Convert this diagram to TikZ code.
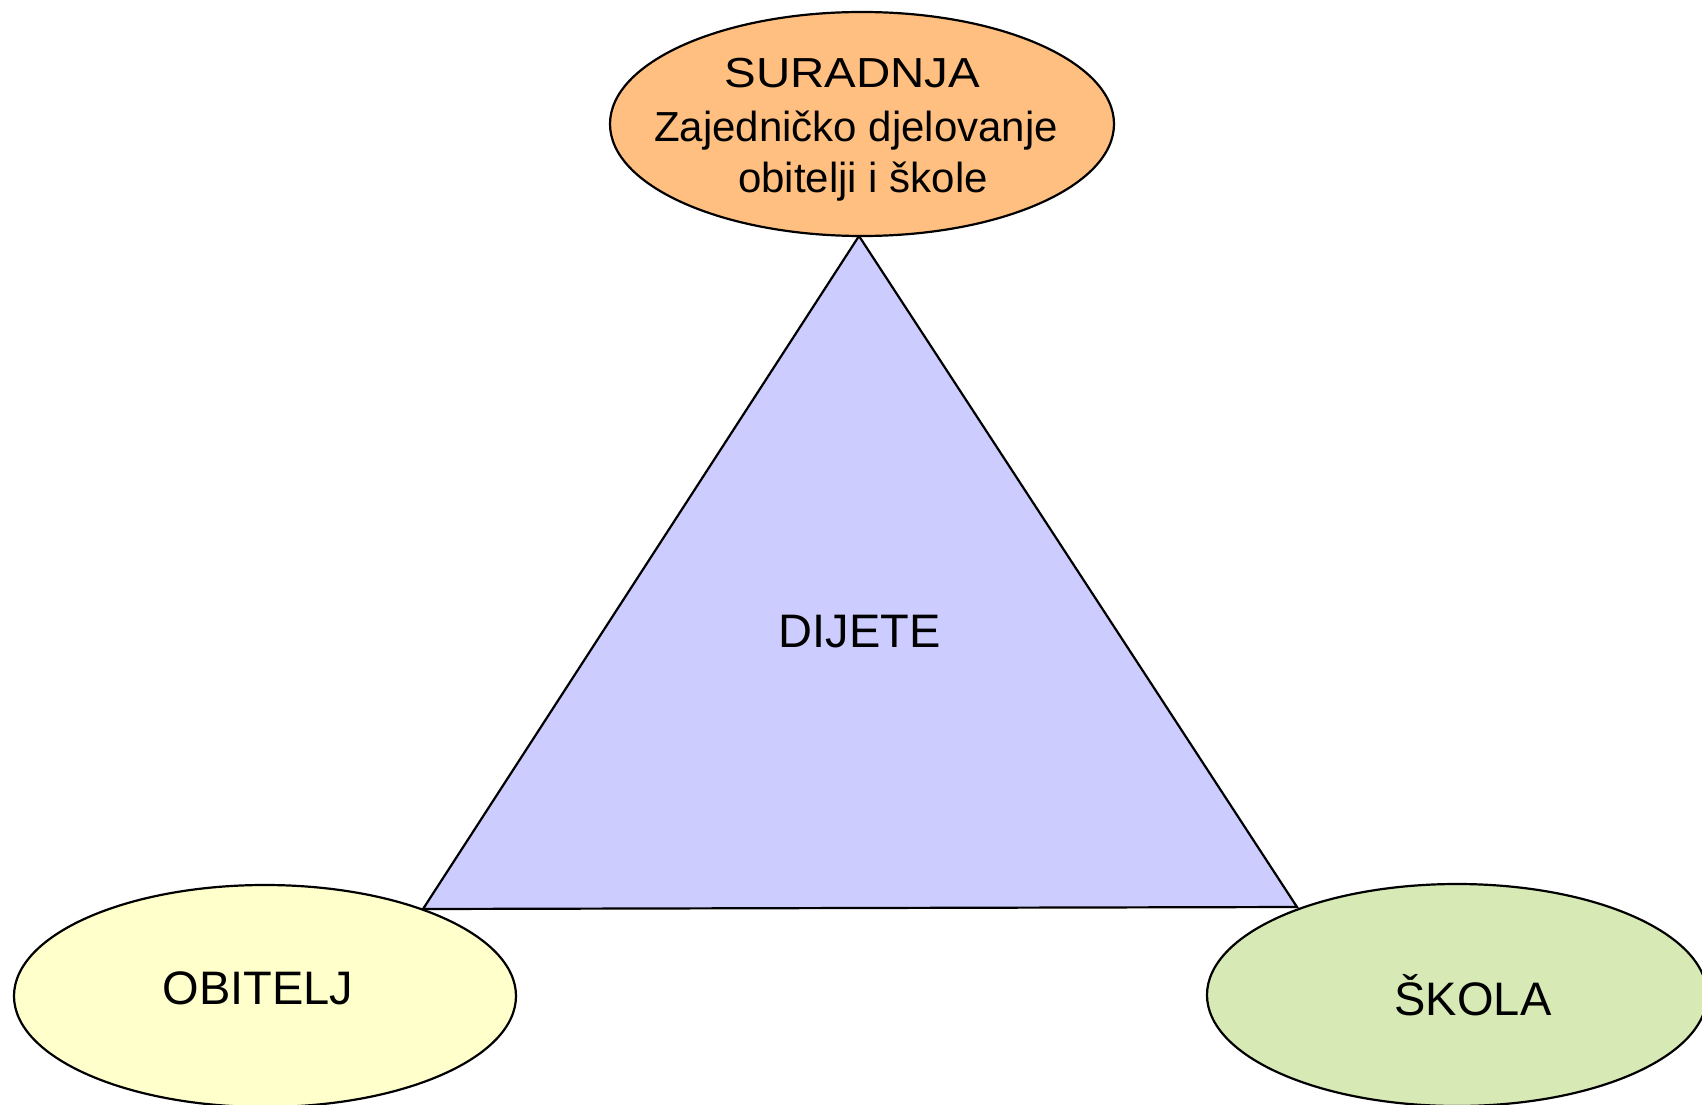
\documentclass[tikz,border=0pt]{standalone}
\usepackage{fontspec}
\setmainfont{Liberation Sans}
\usetikzlibrary{shapes.geometric}
\definecolor{topfill}{HTML}{FFBF80}
\definecolor{trifill}{HTML}{CCCCFF}
\definecolor{leftfill}{HTML}{FFFFCC}
\definecolor{rightfill}{HTML}{D7E9B4}
\tikzset{
  oval/.style={ellipse, draw=black, line width=2.2pt, inner sep=0pt},
  bigtxt/.style={anchor=base, inner sep=0pt, font=\fontsize{47}{56}\selectfont},
  toptxt/.style={anchor=base, inner sep=0pt, font=\fontsize{42}{48}\selectfont},
  tri/.style={draw=black, line width=2.2pt, fill=trifill, line join=miter}
}
\begin{document}
\begin{tikzpicture}[x=1pt,y=-1pt]
\useasboundingbox (0,0) rectangle (1702,1105);
% triangle
\coordinate (apex) at (859,236);
\coordinate (bl) at (423,909);
\coordinate (br) at (1297,907);
\draw[tri] (apex) -- (bl) -- (br) -- cycle;
\node[bigtxt] (dijete) at (859.5,647) {DIJETE};
% top ellipse
\node[oval, fill=topfill, minimum width=504pt, minimum height=224pt] (sur) at (862,124) {};
\node[toptxt] (l1) at (852.5,88) {\scalebox{1.13}[1]{SURADNJA}};
\node[toptxt] (l2) at (856,142) {Zajedničko djelovanje};
\node[toptxt] (l3) at (863,192) {obitelji i škole};
% left ellipse
\node[oval, fill=leftfill, minimum width=502pt, minimum height=222pt] (obi) at (265,996) {};
\node[bigtxt] (obitxt) at (258,1004) {OBITELJ};
% right ellipse
\node[oval, fill=rightfill, minimum width=500pt, minimum height=222pt] (sko) at (1457,995) {};
\node[bigtxt] (skotxt) at (1473,1015) {ŠKOLA};
\end{tikzpicture}
\end{document}
